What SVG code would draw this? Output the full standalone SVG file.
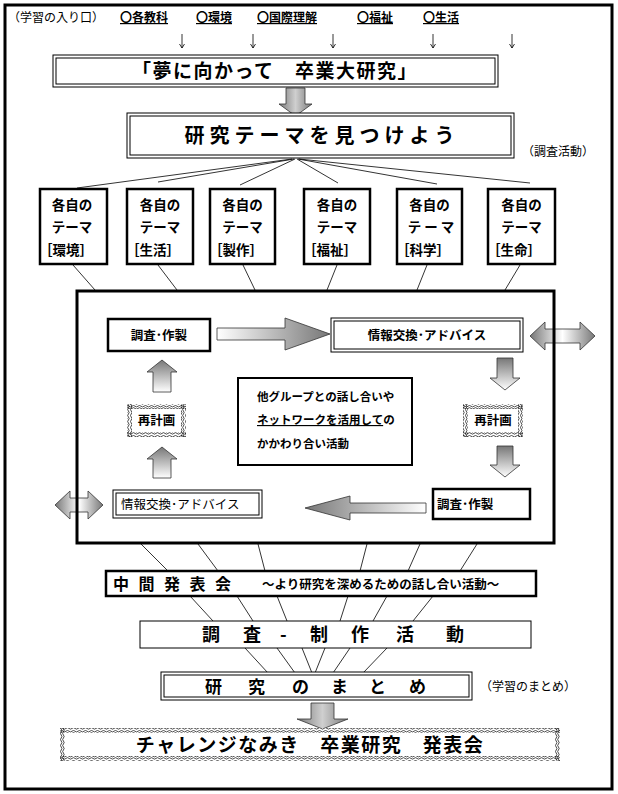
<svg xmlns="http://www.w3.org/2000/svg" width="618" height="794" viewBox="0 0 618 794">
<style>
text{font-family:"Noto Sans CJK JP","Noto Sans CJK SC",sans-serif;fill:#000}
.b{font-weight:bold}
.thin{fill:#fff;stroke:#000;stroke-width:1}
.thick{fill:#fff;stroke:#000;stroke-width:2.5}
.ln{stroke:#000;stroke-width:0.8;fill:none}
.ar{stroke:#333;stroke-width:0.8}
.t{font-size:13.5px;font-weight:bold}
</style>
<defs>
<linearGradient id="gH" x1="0" y1="0" x2="1" y2="0"><stop offset="0" stop-color="#7a7a7a"/><stop offset="0.5" stop-color="#cfcfcf"/><stop offset="1" stop-color="#7a7a7a"/></linearGradient>
<linearGradient id="gR" x1="0" y1="0" x2="1" y2="0"><stop offset="0" stop-color="#fff"/><stop offset="1" stop-color="#777"/></linearGradient>
<linearGradient id="gL" x1="0" y1="0" x2="1" y2="0"><stop offset="0" stop-color="#777"/><stop offset="1" stop-color="#fff"/></linearGradient>
<linearGradient id="gV" x1="0" y1="0" x2="0" y2="1"><stop offset="0" stop-color="#777"/><stop offset="1" stop-color="#fff"/></linearGradient>
<linearGradient id="gD" x1="0" y1="0" x2="1" y2="0"><stop offset="0" stop-color="#777"/><stop offset="0.5" stop-color="#fff"/><stop offset="1" stop-color="#777"/></linearGradient>
<pattern id="wh" width="6" height="5" patternUnits="userSpaceOnUse"><path d="M0 1.2 Q1.5 -0.3 3 1.2 T6 1.2 M0 3.4 Q1.5 1.9 3 3.4 T6 3.4" fill="none" stroke="#000" stroke-width="0.7"/></pattern>
<pattern id="wv" width="5" height="6" patternUnits="userSpaceOnUse"><path d="M1.2 0 Q-0.3 1.5 1.2 3 T1.2 6 M3.4 0 Q1.9 1.5 3.4 3 T3.4 6" fill="none" stroke="#000" stroke-width="0.7"/></pattern>
</defs>

<rect x="5" y="5" width="607" height="784" fill="#fff" stroke="#000" stroke-width="3"/>

<g id="entry">
<text x="8" y="22" font-size="12">（学習の入り口）</text>
<text x="120" y="22" font-size="12" class="b" text-decoration="underline">〇各教科</text>
<text x="196" y="22" font-size="12" class="b" text-decoration="underline">〇環境</text>
<text x="257" y="22" font-size="12" class="b" text-decoration="underline">〇国際理解</text>
<text x="357" y="22" font-size="12" class="b" text-decoration="underline">〇福祉</text>
<text x="423" y="22" font-size="12" class="b" text-decoration="underline">〇生活</text>
</g>

<g id="connectors">
<path class="ln" d="M182 34 V48 M179.5 44 L182 48 L184.5 44 M253 34 V48 M250.5 44 L253 48 L255.5 44 M333 34 V48 M330.5 44 L333 48 L335.5 44 M433 34 V48 M430.5 44 L433 48 L435.5 44 M512 34 V48 M509.5 44 L512 48 L514.5 44"/>
<polygon class="ar" fill="url(#gH)" points="286,88 305,88 305,104 312,104 295.5,116 279,104 286,104"/>
<path class="ln" d="M292 159 L77 188 M294 159 L158 182 M295 159 L240 185 M297 159 L338 183 M298 159 L437 184 M299 159 L530 183"/>
<path class="ln" d="M73 265 L95 290 M158 265 L177 290 M243 265 L255 290 M337 265 L327 290 M427 265 L417 290 M520 265 L505 290"/>
<polygon class="ar" fill="url(#gR)" points="217,328 285,328 285,318 330,334 285,350 285,340 217,340"/>
<polygon class="ar" fill="url(#gD)" points="530,336 545,322 545,329 580,329 580,322 595,336 580,350 580,343 545,343 545,350"/>
<polygon class="ar" fill="url(#gV)" points="162,360 177,372 171,372 171,392 153,392 153,372 147,372"/>
<polygon class="ar" fill="url(#gV)" points="162,447 177,459 171,459 171,478 153,478 153,459 147,459"/>
<polygon class="ar" fill="url(#gV)" points="497,358 513,358 513,378 520,378 505,390 490,378 497,378"/>
<polygon class="ar" fill="url(#gV)" points="497,446 513,446 513,465 520,465 505,477 490,465 497,465"/>
<polygon class="ar" fill="url(#gL)" points="305,508 350,496 350,503 426,503 426,513 350,513 350,520"/>
<polygon class="ar" fill="url(#gD)" points="55,505 70,491 70,498 88,498 88,491 103,505 88,519 88,512 70,512 70,519"/>
<path class="ln" d="M141 544 L168 571 M198 544 L218 571 M258 544 L265 571 M367 544 L360 571 M420 544 L408 571 M477 544 L460 571"/>
<path class="ln" d="M190 596 L213 621 M237 596 L253 621 M277 596 L287 621 M348 596 L340 621 M387 596 L373 621 M433 596 L413 621"/>
<path class="ln" d="M245 648 L268 673 M277 648 L295 673 M302 648 L312 673 M325 648 L315 673 M350 648 L333 673 M387 648 L363 673"/>
<polygon class="ar" fill="url(#gH)" points="311,703 334,703 334,719 348,719 322.5,729 297,719 311,719"/>
</g>

<g id="title">
<rect class="thin" x="53" y="55" width="445" height="32"/>
<rect class="thin" x="56" y="58" width="439" height="26" stroke-width="1.3"/>
<text x="275" y="78" font-size="19" class="b" text-anchor="middle" letter-spacing="1.5">「夢に向かって　卒業大研究」</text>
</g>

<g id="find-theme">
<rect class="thin" x="127" y="113" width="387" height="45"/>
<rect class="thin" x="130" y="116" width="381" height="39" stroke-width="1.3"/>
<text x="322" y="143" font-size="20" class="b" text-anchor="middle" letter-spacing="5">研究テーマを見つけよう</text>
</g>
<text x="522" y="156" font-size="12">（調査活動）</text>

<g id="theme1"><rect class="thick" x="40" y="189" width="67" height="75"/><text x="72" y="210" class="t" text-anchor="middle">各自の</text><text x="72" y="232" class="t" text-anchor="middle">テーマ</text><text x="39" y="255" class="t">［環境］</text></g>
<g id="theme2"><rect class="thick" x="127" y="189" width="66" height="75"/><text x="160" y="210" class="t" text-anchor="middle">各自の</text><text x="160" y="232" class="t" text-anchor="middle">テーマ</text><text x="126" y="255" class="t">［生活］</text></g>
<g id="theme3"><rect class="thick" x="210" y="189" width="65" height="75"/><text x="242.5" y="210" class="t" text-anchor="middle">各自の</text><text x="242.5" y="232" class="t" text-anchor="middle">テーマ</text><text x="209" y="255" class="t">［製作］</text></g>
<g id="theme4"><rect class="thick" x="304" y="189" width="66" height="75"/><text x="337" y="210" class="t" text-anchor="middle">各自の</text><text x="337" y="232" class="t" text-anchor="middle">テーマ</text><text x="303" y="255" class="t">［福祉］</text></g>
<g id="theme5"><rect class="thick" x="397" y="189" width="65" height="75"/><text x="429.5" y="210" class="t" text-anchor="middle">各自の</text><text x="431" y="232" class="t" text-anchor="middle">テ ー マ</text><text x="396" y="255" class="t">［科学］</text></g>
<g id="theme6"><rect class="thick" x="488" y="189" width="67" height="75"/><text x="521.5" y="210" class="t" text-anchor="middle">各自の</text><text x="521.5" y="232" class="t" text-anchor="middle">テーマ</text><text x="487" y="255" class="t">［生命］</text></g>

<g id="cycle">
<rect x="77" y="291" width="477" height="252" fill="none" stroke="#000" stroke-width="3"/>
</g>

<g id="research1"><rect class="thick" x="108" y="319" width="102" height="32"/><text x="159" y="340" font-size="12.5" class="b" text-anchor="middle">調査･作製</text></g>
<g id="info1"><rect class="thin" x="331" y="318" width="192" height="34"/><rect class="thin" x="334" y="321" width="186" height="28"/><text x="427" y="340" font-size="12.5" class="b" text-anchor="middle">情報交換･アドバイス</text></g>

<g id="replan-left">
<rect x="127" y="404" width="59" height="33" fill="#fff"/>
<rect x="127" y="404" width="59" height="5" fill="url(#wh)"/><rect x="127" y="432" width="59" height="5" fill="url(#wh)"/>
<rect x="127" y="404" width="5" height="33" fill="url(#wv)"/><rect x="181" y="404" width="5" height="33" fill="url(#wv)"/>
<text x="156.5" y="425" font-size="12.5" class="b" text-anchor="middle">再計画</text>
</g>
<g id="replan-right">
<rect x="463" y="404" width="60" height="33" fill="#fff"/>
<rect x="463" y="404" width="60" height="5" fill="url(#wh)"/><rect x="463" y="432" width="60" height="5" fill="url(#wh)"/>
<rect x="463" y="404" width="5" height="33" fill="url(#wv)"/><rect x="518" y="404" width="5" height="33" fill="url(#wv)"/>
<text x="493" y="425" font-size="12.5" class="b" text-anchor="middle">再計画</text>
</g>

<g id="network">
<rect x="238" y="378" width="174" height="87" fill="#fff" stroke="#000" stroke-width="2"/>
<text x="257" y="401" font-size="11.5" class="b">他グループとの話し合いや</text>
<text x="257" y="424" font-size="11.5" class="b"><tspan text-decoration="underline">ネットワークを活用して</tspan>の</text>
<text x="257" y="448" font-size="11.5" class="b">かかわり合い活動</text>
</g>

<g id="research2"><rect class="thick" x="433" y="489" width="97" height="30"/><text x="437" y="509" font-size="12.5" class="b">調査･作製</text></g>
<g id="info2"><rect class="thin" x="113" y="490" width="149" height="28"/><rect class="thin" x="116" y="493" width="143" height="22"/><text x="121" y="509" font-size="12.5">情報交換･アドバイス</text></g>

<g id="midterm">
<rect class="thick" x="106" y="571" width="430" height="25"/>
<text x="113" y="590" font-size="16" class="b" letter-spacing="9.5">中間発表会</text>
<text x="262" y="589" font-size="12.5" class="b">～より研究を深めるための話し合い活動～</text>
</g>

<g id="activity">
<rect class="thin" x="140" y="621" width="391" height="27"/>
<text y="641" font-size="18" class="b"><tspan x="202">調</tspan><tspan x="243">査</tspan><tspan x="280">-</tspan><tspan x="310">制</tspan><tspan x="351">作</tspan><tspan x="396">活</tspan><tspan x="446">動</tspan></text>
</g>

<g id="summary">
<rect class="thin" x="161" y="672" width="311" height="28"/>
<rect class="thin" x="164" y="675" width="305" height="22" stroke-width="1.3"/>
<text y="693" font-size="17" class="b"><tspan x="205">研</tspan><tspan x="248">究</tspan><tspan x="292">の</tspan><tspan x="331">ま</tspan><tspan x="369">と</tspan><tspan x="409">め</tspan></text>
</g>
<text x="480" y="691" font-size="12">（学習のまとめ）</text>

<g id="final">
<rect x="60" y="728" width="500" height="33" fill="#fff"/>
<rect x="60" y="728" width="500" height="5" fill="url(#wh)"/><rect x="60" y="756" width="500" height="5" fill="url(#wh)"/>
<rect x="60" y="728" width="5" height="33" fill="url(#wv)"/><rect x="555" y="728" width="5" height="33" fill="url(#wv)"/>
<text x="310" y="752" font-size="19" class="b" text-anchor="middle" letter-spacing="1.5">チャレンジなみき　卒業研究　発表会</text>
</g>
</svg>
